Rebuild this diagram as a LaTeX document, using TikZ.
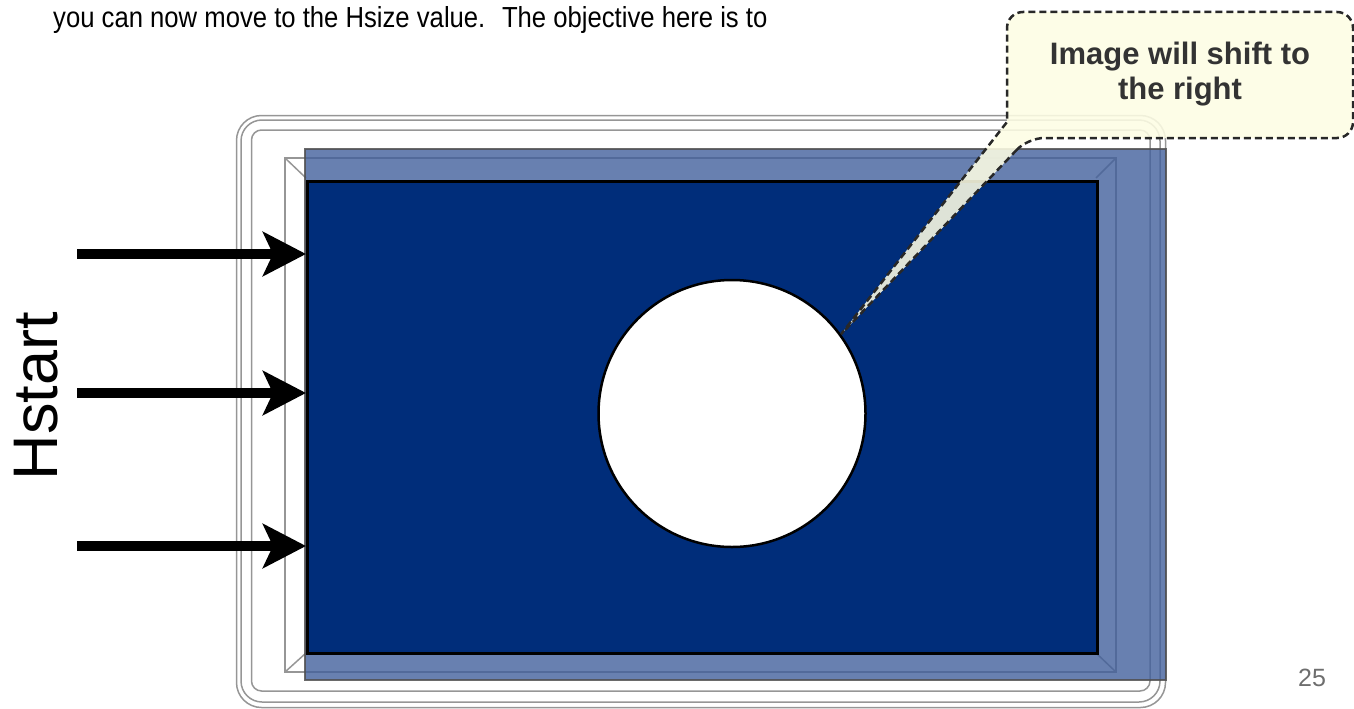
\documentclass[tikz,border=0pt]{standalone}
\usepackage{fontspec}
\usepackage{graphicx}
\setmainfont{Liberation Sans}
\usetikzlibrary{arrows.meta}
\definecolor{framegray}{RGB}{150,150,150}
\definecolor{screenblue}{RGB}{0,45,122}
\definecolor{shiftblue}{RGB}{66,96,156}
\definecolor{shiftedge}{RGB}{80,80,80}
\definecolor{notefill}{RGB}{253,253,228}
\definecolor{noteedge}{RGB}{40,40,40}
\definecolor{notetext}{RGB}{51,51,51}
\definecolor{pagegray}{RGB}{110,110,110}
\begin{document}
\begin{tikzpicture}[x=1pt,y=-1pt,
  frameline/.style={draw=framegray,line width=1.5pt},
  bigarrow/.style={line width=10pt,-{Stealth[length=43pt,width=44pt,inset=10pt]}},
  shiftbox/.style={fill=shiftblue,fill opacity=0.8,draw=shiftedge,draw opacity=0.85,line width=2.5pt},
  notebox/.style={draw=noteedge,fill=notefill,fill opacity=0.88,line width=2.5pt,dash pattern=on 7pt off 4pt}]
\useasboundingbox (0,0) rectangle (1354,709);
% monitor frame
\draw[frameline,rounded corners=25pt] (236.5,115.5) rectangle (1165.5,707.5);
\draw[frameline,rounded corners=21pt] (241,120) rectangle (1160,702);
\draw[frameline,rounded corners=10pt] (251.5,130) rectangle (1150,691);
\draw[frameline] (285,158) rectangle (1116,672);
\draw[frameline] (285,158) -- (306,178);
\draw[frameline] (1116,158) -- (1096,178);
\draw[frameline] (285,672) -- (306,653);
\draw[frameline] (1116,672) -- (1096,653);
% shifted image
\path[shiftbox] (305,149) rectangle (1166,680);
% screen and hole
\node[draw=black,line width=3pt,fill=screenblue,minimum width=790pt,minimum height=472pt,inner sep=0,anchor=north west] (screen) at (306,180) {};
\node[circle,draw=black,line width=2.5pt,fill=white,minimum size=267pt,inner sep=0] (hole) at (732,413.5) {};
% arrows
\coordinate (a1) at (77,254);
\coordinate (a2) at (77,393);
\coordinate (a3) at (77,546);
\draw[bigarrow] (a1) -- (a1 -| screen.west);
\draw[bigarrow] (a2) -- (a2 -| screen.west);
\draw[bigarrow] (a3) -- (a3 -| screen.west);
% callout
\path[notebox] (1028,138) [sharp corners] -- (hole.36) -- (1007,122) [rounded corners=16pt] -- (1007,12) -- (1353,12) -- (1353,138) -- cycle;
\node[font=\bfseries\fontsize{31}{35}\selectfont,text=notetext,align=center,inner sep=0,anchor=north] (note) at (1180,42) {Image will shift to\\the right};
% texts
\node[anchor=base west,inner sep=0,font=\fontsize{29}{34}\selectfont] (intro) at (53,28) {\scalebox{0.885}[1]{you can now move to the Hsize value.~ The objective here is to}};
\node[rotate=90,font=\fontsize{63}{70}\selectfont,inner sep=0] (hstart) at (36,396) {Hstart};
\node[text=pagegray,font=\fontsize{25}{30}\selectfont,anchor=base,inner sep=0] (page) at (1312,686) {25};
\end{tikzpicture}
\end{document}
